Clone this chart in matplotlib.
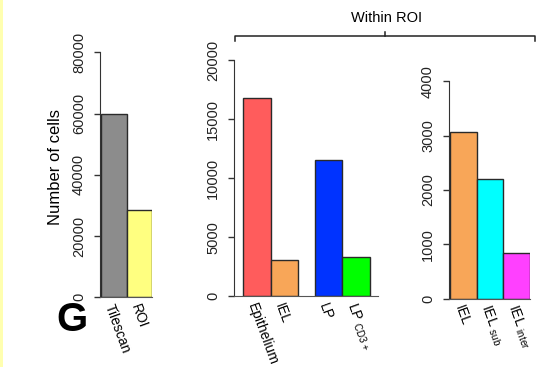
import matplotlib
matplotlib.use("Agg")
import matplotlib.pyplot as plt
from matplotlib.lines import Line2D
from matplotlib.patches import Rectangle

plt.rcParams['font.family'] = ['Liberation Sans', 'DejaVu Sans']
plt.rcParams['mathtext.fontset'] = 'custom'
plt.rcParams['mathtext.rm'] = 'Liberation Sans'

# cell counts
total_labels = ['Tilescan', 'ROI']
total_counts = [60000, 28500]
total_colors = ['#8c8c8c', '#ffff80']

roi_labels = ['Epithelium', 'IEL', 'LP', 'LP $_{\\mathregular{CD3+}}$']
roi_counts = [16800, 3070, 11550, 3300]
roi_colors = ['#ff5c5c', '#f8a658', '#0033ff', '#00ff00']

iel_labels = ['IEL', 'IEL $_{\\mathregular{sub}}$', 'IEL $_{\\mathregular{inter}}$']
iel_counts = [3070, 2200, 850]
iel_colors = ['#f8a658', '#00ffff', '#ff40ff']

W, H = 542, 367
fig = plt.figure(figsize=(W / 100, H / 100), dpi=100)


def px_axes(x0, x1, ytop, ybot):
    return fig.add_axes([x0 / W, 1 - ybot / H, (x1 - x0) / W, (ybot - ytop) / H])


def draw_panel(ax, lefts, counts, colors, labels, xmax, ymax, step):
    ax.bar(lefts, counts, width=1, align='edge', color=colors,
           edgecolor='#2a2a2a', linewidth=1)
    ax.set_xlim(0, xmax)
    ax.set_ylim(0, ymax)
    ax.set_yticks(range(0, ymax + 1, step))
    ax.tick_params(axis='y', labelrotation=90, labelsize=10.5, length=4,
                   width=1, pad=6, direction='out', colors='#333333',
                   labelcolor='#222222')
    for t in ax.get_yticklabels():
        t.set_va('center')
    ax.set_xticks([])
    for s in ['top', 'right']:
        ax.spines[s].set_visible(False)
    ax.spines['left'].set_bounds(0, ymax)
    ax.spines['left'].set_color('#333333')
    ax.spines['bottom'].set_color('#555555')
    for l, lab in zip(lefts, labels):
        ax.text(l + 0.3, -0.03, lab, transform=ax.get_xaxis_transform(),
                rotation=-70, rotation_mode='anchor', ha='left', va='center',
                fontsize=10)
    ax.patch.set_visible(False)


ax1 = px_axes(100, 152, 52.3, 297.3)
draw_panel(ax1, [0.04, 1.04], total_counts, total_colors, total_labels,
           2.04, 80000, 20000)
ax1.set_ylabel('Number of cells', fontsize=12)
ax1.yaxis.set_label_coords(-0.72, 0.53)

ax2 = px_axes(234, 378, 60.3, 296.3)
draw_panel(ax2, [0.34, 1.34, 2.95, 3.95], roi_counts, roi_colors, roi_labels,
           5.26, 20000, 5000)

ax3 = px_axes(449, 530, 81.3, 298.7)
draw_panel(ax3, [0.04, 1.04, 2.04], iel_counts, iel_colors, iel_labels,
           3.04, 4000, 1000)

# bracket over the ROI panels
def fx(x):
    return x / W


def fy(y):
    return 1 - y / H


bk = dict(color='#222222', linewidth=1.1, transform=fig.transFigure)
fig.add_artist(Line2D([fx(235.3), fx(235.3), fx(535), fx(535)],
                      [fy(41), fy(35.7), fy(35.7), fy(41)], **bk))
fig.add_artist(Line2D([fx(385), fx(385)], [fy(35.7), fy(31.5)], **bk))
fig.text(fx(386.5), fy(18.5), 'Within ROI', ha='center', va='center', fontsize=10.5)

fig.text(fx(72), fy(320), 'G', ha='center', va='center', fontsize=29,
         fontweight='bold')

fig.add_artist(Rectangle((0, 0), 3 / W, 1, transform=fig.transFigure,
                         color='#ffffb0', linewidth=0))

fig.savefig('out.png', dpi=100)
